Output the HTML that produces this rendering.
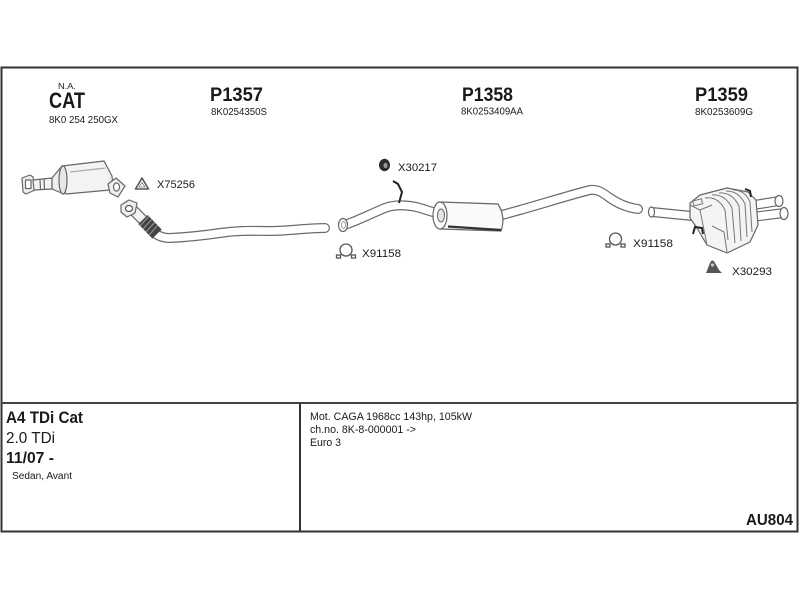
<!DOCTYPE html>
<html><head><meta charset="utf-8"><style>
html,body{margin:0;padding:0;background:#fff;}
svg{display:block;}
text{font-family:"Liberation Sans",Arial,sans-serif;fill:#1a1a1a;}
</style></head><body>
<svg width="800" height="600" viewBox="0 0 800 600" xmlns="http://www.w3.org/2000/svg">
<rect x="0" y="0" width="800" height="600" fill="#fff"/>
<!-- frame -->
<rect x="1.5" y="67.5" width="796" height="464" fill="none" stroke="#333" stroke-width="2"/>
<line x1="1" y1="403" x2="798" y2="403" stroke="#444" stroke-width="2"/>
<line x1="300" y1="403" x2="300" y2="532" stroke="#333" stroke-width="2"/>

<!-- headings -->
<text x="58" y="89" font-size="8" textLength="18" lengthAdjust="spacingAndGlyphs">N.A.</text>
<text x="49" y="108" font-size="22" font-weight="bold" textLength="36" lengthAdjust="spacingAndGlyphs">CAT</text>
<text x="49" y="123" font-size="10.5" textLength="69" lengthAdjust="spacingAndGlyphs">8K0 254 250GX</text>

<text x="210" y="101" font-size="19" font-weight="bold" textLength="53" lengthAdjust="spacingAndGlyphs">P1357</text>
<text x="211" y="115" font-size="10" textLength="56" lengthAdjust="spacingAndGlyphs">8K0254350S</text>

<text x="462" y="101" font-size="19" font-weight="bold" textLength="51" lengthAdjust="spacingAndGlyphs">P1358</text>
<text x="461" y="114.5" font-size="10" textLength="62" lengthAdjust="spacingAndGlyphs">8K0253409AA</text>

<text x="695" y="101" font-size="19" font-weight="bold" textLength="53" lengthAdjust="spacingAndGlyphs">P1359</text>
<text x="695" y="115" font-size="10" textLength="58" lengthAdjust="spacingAndGlyphs">8K0253609G</text>

<!-- ===== CAT converter ===== -->
<g stroke="#666" stroke-width="1.2" stroke-linejoin="round">
  <path d="M22,178 L30,175 L33,177 L35,190 L26,194 L23,192 Z" fill="#eee"/>
  <rect x="25.5" y="180" width="5.5" height="8.5" fill="#fff"/>
  <path d="M33,180 L52,178 L52,189 L34,190 Z" fill="#f4f4f4"/>
  <line x1="40" y1="179.5" x2="40.5" y2="189.5"/>
  <line x1="44" y1="179" x2="44.5" y2="189"/>
  <path d="M52,178 L62,166 L64,194 L52,189 Z" fill="#eee"/>
  <path d="M62,166 L104,161 Q112,175 110,190 L66,194 Q58,180 62,166 Z" fill="#f3f3f3"/>
  <ellipse cx="63" cy="180" rx="4" ry="14" fill="#e6e6e6"/>
  <path d="M70,172 L106,168" fill="none" stroke="#aaa"/>
  <path d="M104,161 L112,176 L113,186 L110,190" fill="#eee"/>
  <path d="M108,184 L116,178 L125,186 L118,197 L110,193 Z" fill="#eee"/>
  <ellipse cx="116.5" cy="187" rx="3" ry="4" fill="#fff"/>
</g>

<!-- gasket triangle X75256 -->
<path d="M142,178 L148.5,189 L135.5,189 Z" fill="#fff" stroke="#555" stroke-width="1.6" stroke-linejoin="round"/>
<path d="M142,182.5 L145,187 L139,187 Z" fill="#fff" stroke="#777" stroke-width="0.8"/>
<text x="157" y="188" font-size="11" textLength="38" lengthAdjust="spacingAndGlyphs">X75256</text>

<!-- ===== P1357 pipe ===== -->
<path d="M150,228 Q157,238 170,238 C190,237 200,236 220,233 C240,230 255,231 270,231 C290,231 305,228 325,228" fill="none" stroke="#6a6a6a" stroke-width="10" stroke-linecap="round" stroke-linejoin="round"/>
<path d="M150,228 Q157,238 170,238 C190,237 200,236 220,233 C240,230 255,231 270,231 C290,231 305,228 325,228" fill="none" stroke="#fff" stroke-width="7.6" stroke-linecap="round" stroke-linejoin="round"/>
<!-- flex section -->
<line x1="133" y1="210" x2="144" y2="221" stroke="#6a6a6a" stroke-width="11"/>
<line x1="133" y1="210" x2="144" y2="221" stroke="#f2f2f2" stroke-width="8.6"/>
<line x1="143" y1="219.5" x2="157" y2="234" stroke="#444" stroke-width="13"/>
<g stroke="#999" stroke-width="1">
  <line x1="140" y1="226" x2="149" y2="216"/>
  <line x1="143" y1="229" x2="152" y2="219"/>
  <line x1="146" y1="232" x2="155" y2="222"/>
  <line x1="149" y1="235" x2="158" y2="225"/>
</g>
<path d="M121,205 L129,200 L137,203 L135,213 L127,217 L121,212 Z" fill="#eee" stroke="#666" stroke-width="1.2" stroke-linejoin="round"/>
<ellipse cx="129" cy="208.5" rx="3.5" ry="3" fill="#fff" stroke="#555" stroke-width="1.2"/>

<!-- ===== P1358 ===== -->
<path d="M344,225 C355,222 370,214 385,208 C395,204 410,205 420,208 L436,213" fill="none" stroke="#6a6a6a" stroke-width="10" stroke-linejoin="round"/>
<path d="M344,225 C355,222 370,214 385,208 C395,204 410,205 420,208 L436,213" fill="none" stroke="#fff" stroke-width="7.6" stroke-linejoin="round"/>
<ellipse cx="343" cy="225" rx="4.5" ry="6.5" fill="#fff" stroke="#666" stroke-width="1.2"/>
<ellipse cx="343.5" cy="225" rx="2" ry="3.5" fill="#fff" stroke="#888" stroke-width="0.8"/>
<path d="M502,215 L520,210 C545,203 570,195 590,190 C598,189 603,193 610,198 C620,205 630,208 638,209" fill="none" stroke="#6a6a6a" stroke-width="10" stroke-linecap="round" stroke-linejoin="round"/>
<path d="M502,215 L520,210 C545,203 570,195 590,190 C598,189 603,193 610,198 C620,205 630,208 638,209" fill="none" stroke="#fff" stroke-width="7.6" stroke-linecap="round" stroke-linejoin="round"/>
<!-- muffler -->
<path d="M440,202 L498,204 Q506,217 501,231 L441,229 Z" fill="#fafafa" stroke="#666" stroke-width="1.2"/>
<path d="M448,226.5 L501,230" stroke="#333" stroke-width="2.2" fill="none"/>
<ellipse cx="440" cy="215.5" rx="7" ry="13.5" fill="#fff" stroke="#666" stroke-width="1.2"/>
<ellipse cx="441" cy="215.5" rx="3.5" ry="6.5" fill="#e4e4e4" stroke="#666" stroke-width="1"/>
<!-- hanger -->
<path d="M393,181 L398,184 L402,192 L399,203" fill="none" stroke="#222" stroke-width="2"/>
<!-- X30217 icon -->
<ellipse cx="384.5" cy="165" rx="5.5" ry="6.2" fill="#2e2e2e"/>
<ellipse cx="385.5" cy="165.5" rx="2" ry="2.6" fill="#9a9a9a"/>
<text x="398" y="171" font-size="11" textLength="39" lengthAdjust="spacingAndGlyphs">X30217</text>
<!-- clamp X91158 left -->
<g stroke="#555" stroke-width="1.3" fill="#fff">
  <circle cx="346" cy="250" r="6"/>
  <path d="M338,257 L342,254 M354,257 L350,254" fill="none"/>
  <rect x="336.5" y="255" width="4" height="3"/>
  <rect x="351.5" y="255" width="4" height="3"/>
</g>
<text x="362" y="257" font-size="11" textLength="39" lengthAdjust="spacingAndGlyphs">X91158</text>

<!-- ===== P1359 rear ===== -->
<path d="M652,212 L692,216" fill="none" stroke="#6a6a6a" stroke-width="10"/>
<path d="M652,212 L692,216" fill="none" stroke="#fff" stroke-width="7.6"/>
<ellipse cx="651.5" cy="212" rx="3" ry="5" fill="#fff" stroke="#666" stroke-width="1.2"/>
<!-- tailpipes -->
<path d="M748,206 L779,201" stroke="#6a6a6a" stroke-width="10" fill="none"/>
<path d="M748,206 L779,201" stroke="#fff" stroke-width="7.6" fill="none"/>
<ellipse cx="779" cy="201" rx="4" ry="5.5" fill="#fff" stroke="#666" stroke-width="1.2"/>
<path d="M752,217 L784,213" stroke="#6a6a6a" stroke-width="10" fill="none"/>
<path d="M752,217 L784,213" stroke="#fff" stroke-width="7.6" fill="none"/>
<ellipse cx="784" cy="213.5" rx="4" ry="6" fill="#fff" stroke="#666" stroke-width="1.2"/>
<!-- rear muffler body -->
<path d="M690,203 L700,195 L727,188 L748,192 L756,200 L758,225 L750,242 L727,253 L707,245 L697,228 L690,218 Z" fill="#f4f4f4" stroke="#666" stroke-width="1.2" stroke-linejoin="round"/>
<g fill="none" stroke="#777" stroke-width="1">
  <path d="M690,205 L700,210 L707,245"/>
  <path d="M700,210 L712,205"/>
  <rect x="693" y="200" width="9" height="5" transform="rotate(-15 697 202)"/>
  <path d="M705,198 Q718,196 725,210 L728,240"/>
  <path d="M712,195 Q725,194 732,208 L735,243"/>
  <path d="M719,193 Q732,192 739,206 L741,241"/>
  <path d="M726,191 Q739,191 745,204 L747,237"/>
  <path d="M733,190 Q745,190 750,202 L752,232"/>
  <path d="M712,226 L724,232 L727,252"/>
</g>
<path d="M745,189 L750,191 L751,197" fill="none" stroke="#222" stroke-width="2"/>
<path d="M693,234 L695,227 L702,228 L703,234" fill="none" stroke="#222" stroke-width="2"/>
<!-- clamp X91158 right -->
<g stroke="#555" stroke-width="1.3" fill="#fff">
  <circle cx="615.5" cy="239" r="6"/>
  <rect x="606" y="244" width="4" height="3"/>
  <rect x="621" y="244" width="4" height="3"/>
</g>
<text x="633" y="247" font-size="11" textLength="40" lengthAdjust="spacingAndGlyphs">X91158</text>
<!-- X30293 icon -->
<path d="M706,273 L710,263 Q712.5,258 715,263 L719,270 L722,273 Z" fill="#555"/>
<circle cx="712.5" cy="265" r="1.6" fill="#ccc"/>
<text x="732" y="275" font-size="11" textLength="40" lengthAdjust="spacingAndGlyphs">X30293</text>

<!-- ===== lower info ===== -->
<text x="6" y="423" font-size="16.5" font-weight="bold" textLength="77" lengthAdjust="spacingAndGlyphs">A4 TDi Cat</text>
<text x="6" y="443" font-size="16" textLength="49" lengthAdjust="spacingAndGlyphs">2.0 TDi</text>
<text x="6" y="463" font-size="16" font-weight="bold" textLength="48" lengthAdjust="spacingAndGlyphs">11/07 -</text>
<text x="12" y="479" font-size="10" textLength="60" lengthAdjust="spacingAndGlyphs">Sedan, Avant</text>

<text x="310" y="420" font-size="11" textLength="162" lengthAdjust="spacingAndGlyphs">Mot. CAGA 1968cc 143hp, 105kW</text>
<text x="310" y="433" font-size="11" textLength="106" lengthAdjust="spacingAndGlyphs">ch.no. 8K-8-000001 -&gt;</text>
<text x="310" y="446" font-size="11" textLength="31" lengthAdjust="spacingAndGlyphs">Euro 3</text>

<text x="746" y="525" font-size="16" font-weight="bold" textLength="47" lengthAdjust="spacingAndGlyphs">AU804</text>
</svg>
</body></html>
